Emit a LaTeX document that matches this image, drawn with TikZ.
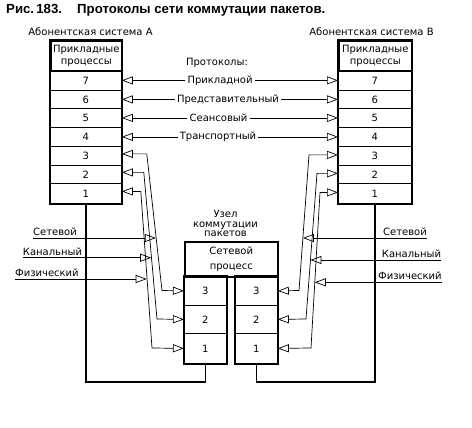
\documentclass[tikz,border=0pt]{standalone}
\usepackage{fontspec}
\setmainfont{DejaVu Sans}
\newfontfamily\titlefont{Liberation Sans}
\usetikzlibrary{arrows.meta}
\begin{document}
\begin{tikzpicture}[x=1pt,y=-1pt,
  every node/.style={inner sep=0pt},
  txt/.style={font=\fontsize{10}{10}\selectfont},
  opentip/.tip={Triangle[open,length=11pt,width=8pt]},
  thinln/.style={line width=0.7pt},
  tipr/.style={thinln,-opentip},
  both/.style={thinln,opentip-opentip},
  cell/.style={draw, txt, line width=0.8pt, anchor=north west},
  frame/.style={line width=1.6pt},
  lbl/.style={txt, inner sep=2pt},
  ttl/.style={anchor=base west, font=\titlefont\bfseries\fontsize{13.2}{14}\selectfont},
]
\fill[white] (0,0) rectangle (472,428);
\useasboundingbox (0,0) rectangle (472,428);

% title
\node[ttl] (t1) at (6,14) {Рис.\,183.};
\node[ttl] (t2) at (77,14) {Протоколы сети коммутации пакетов.};

% subscriber labels
\node[txt] (la) at (90.5,31.5) {Абонентская система А};
\node[txt] (lb) at (371.5,31.5) {Абонентская система В};

% left stack
\node[cell, frame, minimum width=71pt, minimum height=30pt, align=center, font=\fontsize{10}{12.5}\selectfont] (LH) at (50,40) {Прикладные\\процессы};
\node[cell, minimum width=71pt, minimum height=20pt] (L7) at (50,70) {7};
\node[cell, minimum width=71pt, minimum height=18pt] (L6) at (50,90) {6};
\node[cell, minimum width=71pt, minimum height=19pt] (L5) at (50,108) {5};
\node[cell, minimum width=71pt, minimum height=19pt] (L4) at (50,127) {4};
\node[cell, minimum width=71pt, minimum height=19pt] (L3) at (50,146) {3};
\node[cell, minimum width=71pt, minimum height=18pt] (L2) at (50,165) {2};
\node[cell, minimum width=71pt, minimum height=20pt] (L1) at (50,183) {1};
\draw[frame] (LH.north west) rectangle (L1.south east);

% right stack
\node[cell, frame, minimum width=73pt, minimum height=30pt, align=center, font=\fontsize{10}{12.5}\selectfont] (RH) at (338,40) {Прикладные\\процессы};
\node[cell, minimum width=73pt, minimum height=20pt] (R7) at (338,70) {7};
\node[cell, minimum width=73pt, minimum height=18pt] (R6) at (338,90) {6};
\node[cell, minimum width=73pt, minimum height=19pt] (R5) at (338,108) {5};
\node[cell, minimum width=73pt, minimum height=19pt] (R4) at (338,127) {4};
\node[cell, minimum width=73pt, minimum height=19pt] (R3) at (338,146) {3};
\node[cell, minimum width=73pt, minimum height=18pt] (R2) at (338,165) {2};
\node[cell, minimum width=73pt, minimum height=20pt] (R1) at (338,183) {1};
\draw[frame] (RH.north west) rectangle (R1.south east);

% switching node
\node[txt, align=center, font=\fontsize{10}{9.8}\selectfont] (uz) at (225.5,223.5) {Узел\\коммутации\\пакетов};
\node[cell, frame, minimum width=93pt, minimum height=35pt, align=center, font=\fontsize{10}{15.5}\selectfont] (NH) at (184,241) {Сетевой\\процесс};
\node[cell, minimum width=42pt, minimum height=29pt] (NL3) at (184,276) {3};
\node[cell, minimum width=42pt, minimum height=28pt] (NL2) at (184,305) {2};
\node[cell, minimum width=42pt, minimum height=30pt] (NL1) at (184,333) {1};
\draw[frame] (NL3.north west) rectangle (NL1.south east);
\node[cell, minimum width=42pt, minimum height=29pt] (NR3) at (235,276) {3};
\node[cell, minimum width=42pt, minimum height=28pt] (NR2) at (235,305) {2};
\node[cell, minimum width=42pt, minimum height=30pt] (NR1) at (235,333) {1};
\draw[frame] (NR3.north west) rectangle (NR1.south east);

% peer protocols
\node[txt] (prot) at (217,63) {Протоколы:};
\node[lbl] (p7) at (L7.east -| 220,0) {Прикладной};
\node[lbl] (p6) at (L6.east -| 228,0) {Представительный};
\node[lbl] (p5) at (L5.east -| 218.5,0) {Сеансовый};
\node[lbl] (p4) at (L4.east -| 218,0) {Транспортный};
\foreach \r in {7,6,5,4}{
  \draw[tipr] (L\r.east -| p\r.west) -- (L\r.east);
  \draw[tipr] (R\r.west -| p\r.east) -- (R\r.west);
}

% lower layers, left
\draw[both] ([yshift=2pt]L3.east) -- ++(25,0) -- (162,290.5) -- (NL3.west);
\draw[both] ([yshift=2pt]L2.east) -- ++(22,0) -- (157,319) -- (NL2.west);
\draw[both] ([yshift=2pt]L1.east) -- ++(19,0) -- (152,348) -- (NL1.west);
% lower layers, right
\draw[both] ([yshift=1pt]R3.west) -- ++(-29,0) -- (299,290.5) -- (NR3.east);
\draw[both] ([yshift=1pt]R2.west) -- ++(-21,0) -- (306,319) -- (NR2.east);
\draw[both] ([yshift=1pt]R1.west) -- ++(-18,0) -- (311,348) -- (NR1.east);

% layer labels, left
\coordinate (tLS) at (155.9,238);
\coordinate (tLK) at (151.2,257.7);
\coordinate (tLF) at (146.7,279);
\node[txt, anchor=base west] (lS) at (33,235.5) {Сетевой};
\node[txt, anchor=base west] (lK) at (22.7,255.2) {Канальный};
\node[txt, anchor=base west] (lF) at (15,276.3) {Физический};
\draw[tipr] (lS.base west |- tLS) -- (tLS);
\draw[tipr] (lK.base west |- tLK) -- (tLK);
\draw[tipr] (lF.base west |- tLF) -- (tLF);

% layer labels, right
\coordinate (tRS) at (302.9,238);
\coordinate (tRK) at (310.4,260);
\coordinate (tRF) at (314.8,282.3);
\node[txt, anchor=base west] (rS) at (383,235.5) {Сетевой};
\node[txt, anchor=base west] (rK) at (381.7,257.5) {Канальный};
\node[txt, anchor=base west] (rF) at (378,279.6) {Физический};
\draw[tipr] (rS.base east |- tRS) -- (tRS);
\draw[tipr] (rK.base east |- tRK) -- (tRK);
\draw[tipr] (rF.base east |- tRF) -- (tRF);

% physical links
\draw[frame] (L1.south) -- (L1.south |- 0,382) -| (NL1.south);
\draw[frame] (R1.south) -- (R1.south |- 0,382) -| (NR1.south);
\end{tikzpicture}
\end{document}
